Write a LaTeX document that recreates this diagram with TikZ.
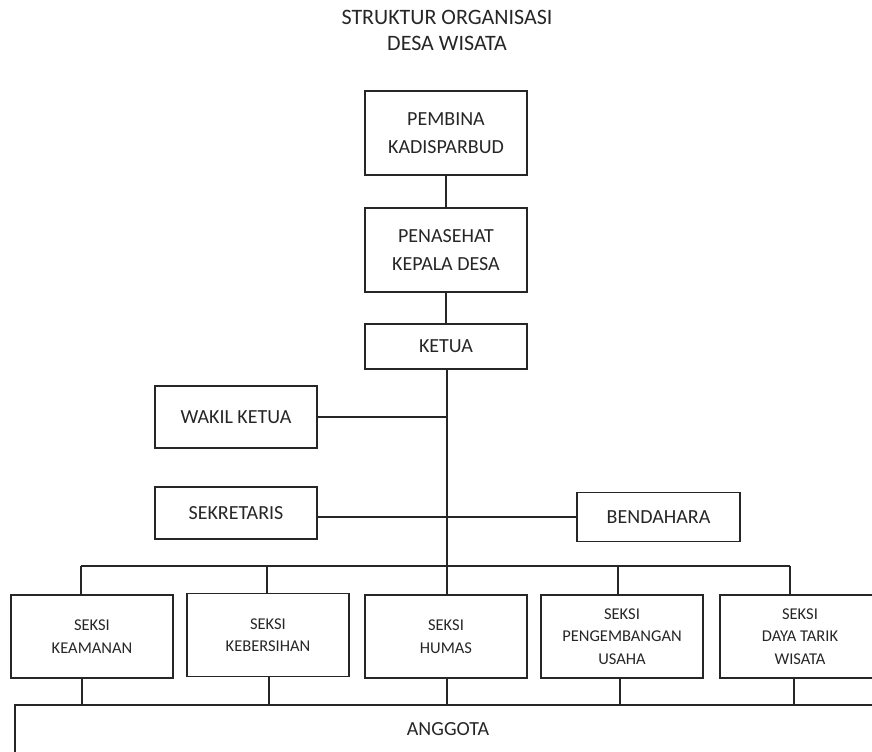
\documentclass[tikz,border=0pt]{standalone}
\usepackage{fontspec}
\setmainfont{Carlito}

\begin{document}
\begin{tikzpicture}[x=0.5pt,y=-0.5pt,line width=0.9pt,draw=black!85,text=black!85,
  box/.style={draw,inner sep=0pt,align=center,minimum width=81pt,font=\fontsize{10}{14}\selectfont},
  seksi/.style={box,minimum height=41.5pt,font=\fontsize{8.25}{11.2}\selectfont}]
\useasboundingbox (0,0) rectangle (872,751);
\clip (0,0) rectangle (872,751);

\node[align=center,font=\fontsize{11}{13}\selectfont] (judul) at (447,30) {STRUKTUR ORGANISASI\\DESA WISATA};

\node[box,minimum height=42pt] (pembina) at (446,133) {PEMBINA\\KADISPARBUD};
\node[box,minimum height=42pt] (penasehat) at (446,250) {PENASEHAT\\KEPALA DESA};
\node[box,minimum height=22.5pt] (ketua) at (446,346.5) {KETUA};
\node[box,minimum height=31pt] (wakil) at (236,417) {WAKIL KETUA};
\node[box,minimum height=26pt] (sekretaris) at (236,513) {SEKRETARIS};
\node[box,minimum width=81.5pt,minimum height=24.5pt] (bendahara) at (658.5,517) {BENDAHARA};

\node[seksi] (keamanan) at (92,636.5) {SEKSI\\KEAMANAN};
\node[seksi] (kebersihan) at (268,635) {SEKSI\\KEBERSIHAN};
\node[seksi] (humas) at (446,636.5) {SEKSI\\HUMAS};
\node[seksi] (usaha) at (622,636.5) {SEKSI\\PENGEMBANGAN\\USAHA};
\node[seksi,minimum width=80pt] (daya) at (800,636.5) {SEKSI\\DAYA TARIK\\WISATA};

\node[draw,anchor=north west,minimum width=450pt,minimum height=45pt] (anggota) at (14,704) {};
\node[font=\fontsize{10}{14}\selectfont] (anggotateks) at (448,729) {ANGGOTA};

% garis
\coordinate (cabang) at (447,566);
\draw (pembina) -- (penasehat);
\draw (penasehat) -- (ketua);
\draw (ketua.south -| cabang) -- (cabang);
\draw (wakil) -- (wakil -| cabang);
\draw (sekretaris.east |- bendahara) -- (bendahara);

\foreach \s/\d in {keamanan/-5.5pt,kebersihan/-0.5pt,humas/0.5pt,usaha/-2pt,daya/-5pt}{
  \coordinate (n-\s) at ([xshift=\d]\s.north);
  \draw (n-\s) -- (n-\s |- cabang);
}
\draw (n-keamanan |- cabang) -- (n-daya |- cabang);

\foreach \s/\d in {keamanan/-5pt,kebersihan/0.5pt,humas/0.5pt,usaha/-1pt,daya/-3pt}{
  \coordinate (s-\s) at ([xshift=\d]\s.south);
  \draw (s-\s) -- (s-\s |- anggota.north);
}
\end{tikzpicture}
\end{document}
